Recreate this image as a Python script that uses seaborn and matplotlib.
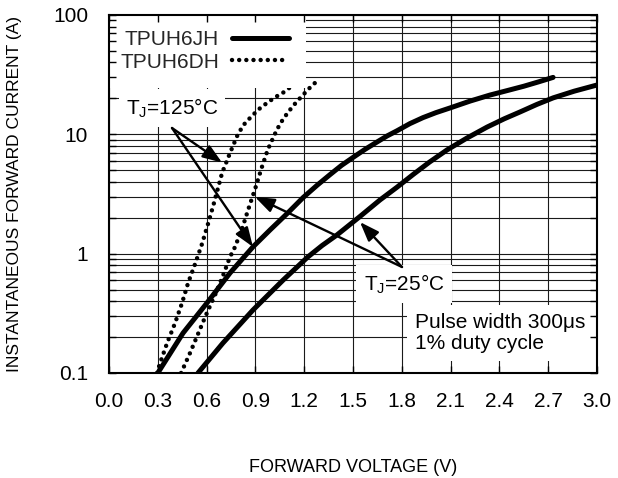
import numpy as np
import pandas as pd
import matplotlib
matplotlib.use("Agg")
import matplotlib.pyplot as plt
import seaborn as sns
from matplotlib.ticker import FixedLocator, FixedFormatter, LogLocator, NullFormatter
from matplotlib.lines import Line2D

# ---------------- data ----------------
jh_125_v = [0.30, 0.455, 0.602, 0.744, 0.885, 0.99, 1.10, 1.193, 1.28, 1.359, 1.43, 1.50, 1.575, 1.648, 1.71, 1.77, 1.85, 1.93, 2.01, 2.10, 2.22, 2.34, 2.45, 2.55, 2.64, 2.73]
jh_125_i = [0.1, 0.216, 0.386, 0.689, 1.14, 1.58, 2.2, 2.95, 3.75, 4.6, 5.5, 6.4, 7.5, 8.63, 9.7, 10.7, 12.3, 13.8, 15.2, 16.7, 19.0, 21.3, 23.3, 25.3, 27.5, 30.0]

jh_25_v = [0.547, 0.70, 0.885, 1.07, 1.223, 1.31, 1.40, 1.543, 1.666, 1.77, 1.869, 1.97, 2.078, 2.20, 2.324, 2.43, 2.527, 2.63, 2.73, 2.86, 3.0]
jh_25_i = [0.1, 0.178, 0.337, 0.60, 0.94, 1.17, 1.43, 2.05, 2.82, 3.6, 4.6, 5.85, 7.4, 9.3, 11.5, 13.5, 15.4, 17.8, 20.2, 23.0, 25.9]

dh_125_v = [0.295, 0.314, 0.357, 0.406, 0.449, 0.486, 0.529, 0.572, 0.61, 0.64, 0.695, 0.744, 0.793, 0.83, 0.873, 0.92, 0.971, 1.02, 1.076, 1.13, 1.18]
dh_125_i = [0.1, 0.121, 0.178, 0.262, 0.386, 0.567, 0.818, 1.21, 1.8, 2.5, 4.74, 6.98, 10.07, 12.1, 14.0, 16.2, 18.3, 20.4, 22.6, 25.8, 29.1]

dh_25_v = [0.443, 0.498, 0.547, 0.596, 0.652, 0.70, 0.744, 0.775, 0.82, 0.861, 0.90, 0.94, 0.977, 1.033, 1.07, 1.107, 1.15, 1.193, 1.235, 1.279]
dh_25_i = [0.1, 0.147, 0.212, 0.306, 0.451, 0.65, 0.94, 1.14, 1.65, 2.46, 3.55, 5.32, 7.5, 11.0, 13.4, 15.7, 18.5, 21.4, 24.6, 28.0]

devices = ["TPUH6JH", "TPUH6DH"]
x_ticks = [0.0, 0.3, 0.6, 0.9, 1.2, 1.5, 1.8, 2.1, 2.4, 2.7, 3.0]
x_tick_labels = ["0.0", "0.3", "0.6", "0.9", "1.2", "1.5", "1.8", "2.1", "2.4", "2.7", "3.0"]
y_ticks = [0.1, 1, 10, 100]
y_tick_labels = ["0.1", "1", "10", "100"]

# annotation arrow targets (V, A)
arrow_125_targets = [(0.695, 5.8), (0.885, 1.14)]
arrow_25_targets = [(0.897, 2.99), (1.543, 1.84)]

# ---------------- build table ----------------
rows = []
for dev, temp, vs, cs in [("TPUH6JH", 125, jh_125_v, jh_125_i),
                          ("TPUH6JH", 25, jh_25_v, jh_25_i),
                          ("TPUH6DH", 125, dh_125_v, dh_125_i),
                          ("TPUH6DH", 25, dh_25_v, dh_25_i)]:
    for v, c in zip(vs, cs):
        rows.append({"device": dev, "temp": temp, "V": v, "I": c})
df = pd.DataFrame(rows)

# ---------------- style ----------------
sns.set_theme(style="white")
plt.rcParams['font.family'] = ['Liberation Sans', 'DejaVu Sans']
plt.rcParams['mathtext.fontset'] = 'custom'
plt.rcParams['mathtext.rm'] = 'Liberation Sans'
plt.rcParams['mathtext.it'] = 'Liberation Sans'
plt.rcParams['mathtext.default'] = 'regular'

W, H = 618, 478
fig = plt.figure(figsize=(W / 100, H / 100), dpi=100)
L, R, T, B = 109, 597, 15, 373
pos = [L / W, 1 - B / H, (R - L) / W, (B - T) / H]
ax = fig.add_axes(pos)

SOLID_LW = 3.6
DOT_LW = 3.2
dot_style = (0, (0.01, 1.6))

for (dev, temp), sub in df.groupby(["device", "temp"], sort=False):
    sns.lineplot(data=sub, x="V", y="I", ax=ax, color="black", sort=False,
                 estimator=None, legend=False,
                 lw=SOLID_LW if dev == "TPUH6JH" else DOT_LW)
    line = ax.lines[-1]
    if dev == "TPUH6DH":
        line.set_linestyle(dot_style)
        line.set_dash_capstyle("round")
    else:
        line.set_solid_capstyle("round")
        line.set_solid_joinstyle("round")
    line.set_zorder(3)

ax.set_yscale("log")
ax.set_xlim(0, 3.0)
ax.set_ylim(0.1, 100)
ax.xaxis.set_major_locator(FixedLocator(x_ticks))
ax.xaxis.set_major_formatter(FixedFormatter(x_tick_labels))
ax.yaxis.set_major_locator(FixedLocator(y_ticks))
ax.yaxis.set_major_formatter(FixedFormatter(y_tick_labels))
ax.yaxis.set_minor_locator(LogLocator(base=10, subs=np.arange(2, 10)))
ax.yaxis.set_minor_formatter(NullFormatter())
ax.grid(True, which="major", axis="x", color="#1a1a1a", lw=0.8)
ax.grid(True, which="both", axis="y", color="#1a1a1a", lw=0.8)
ax.tick_params(axis="both", which="both", length=0, labelsize=15, colors="black")
ax.tick_params(axis="x", pad=14)
ax.tick_params(axis="y", pad=15)
for s in ax.spines.values():
    s.set_visible(False)

ax.set_xlabel("FORWARD VOLTAGE (V)", fontsize=13, color="black")
ax.set_ylabel("INSTANTANEOUS FORWARD CURRENT (A)", fontsize=12.5, color="black")
ax.xaxis.set_label_coords(0.5, -(467 - B) / (B - T))
ax.xaxis.label.set_va("center")
ax.yaxis.set_label_coords((14 - L) / (R - L), 0.5)
ax.yaxis.label.set_va("center")


def fx(px):
    return (px - L) / (R - L)


def fy(py):
    return (B - py) / (B - T)


# legend
handles = [Line2D([], [], color="black", lw=SOLID_LW),
           Line2D([], [], color="black", lw=DOT_LW, linestyle=dot_style, dash_capstyle="round")]
leg = ax.legend(handles, devices, loc="upper left", bbox_to_anchor=(fx(111), fy(21)),
                borderaxespad=0, markerfirst=False, fontsize=15,
                handlelength=2.75, handletextpad=0.6, borderpad=0.45,
                labelspacing=0.15, frameon=True, fancybox=False)
frame = leg.get_frame()
frame.set_facecolor("white")
frame.set_edgecolor("none")
frame.set_alpha(1)
frame.set_boxstyle("square", pad=0.35)
leg.set_zorder(5)

box = dict(boxstyle="square,pad=0.35", fc="white", ec="none")
ax.text(fx(172), fy(108), "T$_J$=125°C", transform=ax.transAxes, ha="center",
        va="center", fontsize=15, color="black", bbox=box, zorder=6)
ax.text(fx(404), fy(284), "T$_J$=25°C", transform=ax.transAxes, ha="center",
        va="center", fontsize=15, color="black", bbox=box, zorder=6)
ax.text(fx(415), fy(333), "Pulse width 300μs\n1% duty cycle", transform=ax.transAxes,
        ha="left", va="center", fontsize=15, color="black", linespacing=1.15,
        bbox=dict(boxstyle="square,pad=0.4", fc="white", ec="none"), zorder=6)

arrow_kw = dict(arrowstyle="-|>,head_length=0.65,head_width=0.24", mutation_scale=18,
                lw=1.7, color="black", shrinkA=0, shrinkB=0)
for tgt in arrow_125_targets:
    ax.annotate("", xy=tgt, xycoords="data", xytext=(fx(172), fy(128)),
                textcoords="axes fraction", arrowprops=arrow_kw, zorder=7)
for tgt in arrow_25_targets:
    ax.annotate("", xy=tgt, xycoords="data", xytext=(fx(402), fy(267)),
                textcoords="axes fraction", arrowprops=arrow_kw, zorder=7)

# overlay axes for frame and inward ticks (drawn above boxes)
ax2 = fig.add_axes(pos)
ax2.set_yscale("log")
ax2.set_xlim(0, 3.0)
ax2.set_ylim(0.1, 100)
ax2.xaxis.set_major_locator(FixedLocator(x_ticks))
ax2.yaxis.set_major_locator(FixedLocator(y_ticks))
ax2.yaxis.set_minor_locator(LogLocator(base=10, subs=np.arange(2, 10)))
ax2.xaxis.set_minor_locator(FixedLocator([]))
ax2.tick_params(axis="both", which="both", direction="in", top=True, right=True,
                bottom=True, left=True, length=5, width=1, color="black",
                labelbottom=False, labelleft=False)
ax2.patch.set_visible(False)
ax2.grid(False)
for s in ax2.spines.values():
    s.set_visible(True)
    s.set_color("black")
    s.set_linewidth(1.5)

fig.savefig("out.png", dpi=100, facecolor="white")
